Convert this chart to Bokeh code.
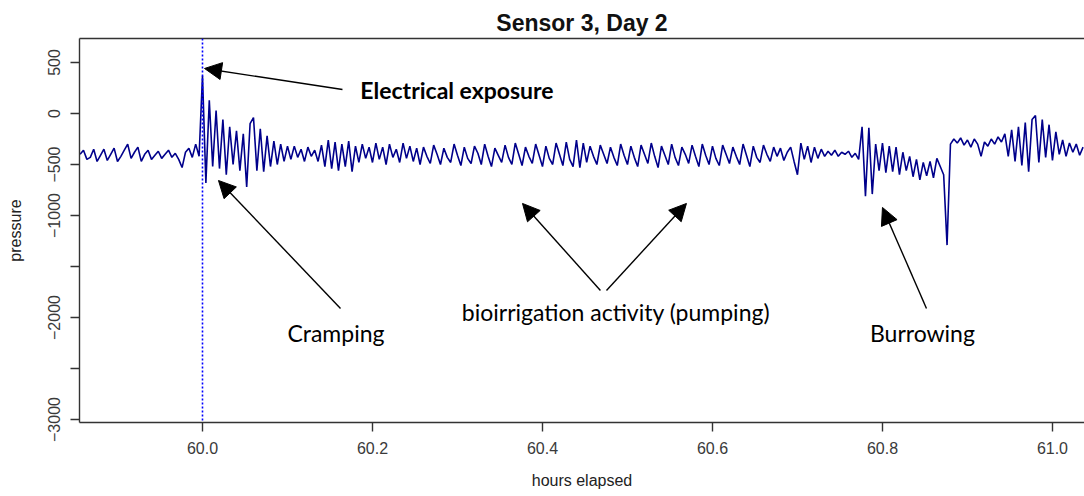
from bokeh.plotting import figure
from bokeh.models import (Range1d, FixedTicker, LinearAxis, Span, Arrow, NormalHead,
                          Label, PrintfTickFormatter)
from bokeh.embed import file_html
from bokeh.resources import INLINE

# ---------------- data ----------------
SAMPLE_START = 59.856   # hours, first sample
SAMPLE_STEP = 0.004     # hours between samples

pressure = [
    # before the electrical exposure
    -400, -360, -450, -430, -350, -470, -410, -350, -460, -400,
    -340, -470, -420, -360, -300, -440, -380, -330, -470, -400,
    -360, -450, -410, -370, -440, -400, -360, -430, -390, -450,
    -530, -380, -340, -430, -300, -420,
    # exposure spike and cramping
    370, -680, 130, -520, 30, -540, -60, -600, -130, -500,
    -170, -560, -200, -720, -100, -40, -560, -150, -570, -220,
    -520, -270, -500, -300, -470, -320,
    # settling down
    -450, -320, -430, -350, -470, -330, -420, -360, -470, -310,
    -520, -260, -540, -280, -560, -300, -520, -270, -570, -320,
    -480, -300, -440, -330, -480, -290, -450, -330, -500, -300,
    -430, -350, -480, -290, -440, -320, -470, -340, -500,
    # regular bioirrigation pumping
    -330, -420, -490, -310, -400, -500, -340, -430, -480, -300,
    -410, -510, -330, -440, -490, -320, -390, -500, -300, -420,
    -520, -340, -410, -480, -310, -430, -500, -290, -400, -510,
    -330, -420, -490, -300, -410, -520, -320, -440, -500, -290,
    -400, -510, -280, -450, -520, -260, -530, -290, -480, -320,
    -420, -500, -310, -400, -490, -330, -430, -510, -300, -410,
    -500, -320, -430, -520, -310, -400, -490, -290, -420, -530,
    -320, -410, -500, -300, -430, -510, -330, -400, -490, -310,
    -420, -520, -300, -410, -500, -320, -440, -510, -310, -400,
    -490, -330, -420, -500, -300, -410, -520, -320, -430, -480,
    -310, -400, -470, -330, -420,
    # burrowing
    -340, -460, -380, -330, -470, -600, -290, -450, -320, -480,
    -330, -440, -350, -420, -370, -410, -360, -420, -380, -400,
    -370, -430, -390, -450, -130, -810, -140, -790, -300, -560,
    -290, -580, -320, -570, -330, -600, -380, -560, -420, -620,
    -450, -650, -480, -610, -470, -630, -440, -520, -600, -1290,
    # after the drop
    -300, -250, -290, -240, -310, -260, -330, -250, -300, -420,
    -280, -320, -250, -300, -230, -280, -200, -420, -160, -470,
    -130, -510, -90, -570, -60, -20, -480, -60, -430, -110,
    -460, -180, -400, -260, -420, -290, -380, -300, -410, -330,
]
hours = [round(SAMPLE_START + SAMPLE_STEP * i, 4) for i in range(len(pressure))]

EXPOSURE_TIME = 60.0

y_ticks = [500, 0, -500, -1000, -1500, -2000, -2500, -3000]
y_hidden = [-1500, -2500]
x_ticks = [60.0, 60.2, 60.4, 60.6, 60.8, 61.0]

ann_text = ["Electrical exposure", "Cramping", "bioirrigation activity (pumping)", "Burrowing"]
ann_x = [60.2994, 60.157, 60.4865, 60.847]
ann_y = [235, -2156, -1950, -2156]
ann_bold = [True, False, False, False]

arrow_x0 = [60.1647, 60.1624, 60.4682, 60.4753, 60.8518]
arrow_y0 = [235, -1911, -1735, -1735, -1911]
arrow_x1 = [60.0024, 60.0188, 60.3765, 60.5694, 60.8]
arrow_y1 = [441, -657, -882, -882, -921]

# ---------------- figure ----------------
AX = "#333333"
TICK_FONT = "Liberation Sans"

p = figure(width=1084, height=496, output_backend="svg", toolbar_location=None,
           x_range=Range1d(59.8553, 61.0377), y_range=Range1d(-3029, 735),
           min_border_left=79, min_border_right=0, min_border_top=38, min_border_bottom=74,
           x_axis_label="hours elapsed", y_axis_label="pressure")
p.outline_line_color = None
p.grid.visible = False
p.background_fill_color = "white"
p.border_fill_color = "white"

p.title.text = "Sensor 3, Day 2"
p.title.align = "center"
p.title.text_font = TICK_FONT
p.title.text_font_style = "bold"
p.title.text_font_size = "23px"
p.title.text_color = "#111111"
p.title.standoff = 6

for ax in (p.xaxis[0], p.yaxis[0]):
    ax.axis_line_color = AX
    ax.axis_line_width = 1.4
    ax.major_tick_line_color = AX
    ax.major_tick_line_width = 1.4
    ax.major_tick_out = 9
    ax.major_tick_in = 0
    ax.minor_tick_out = 0
    ax.minor_tick_in = 0
    ax.major_label_text_font = TICK_FONT
    ax.major_label_text_font_size = "16px"
    ax.major_label_text_color = "#3a3a3a"
    ax.axis_label_text_font = TICK_FONT
    ax.axis_label_text_font_size = "16px"
    ax.axis_label_text_font_style = "normal"
    ax.axis_label_text_color = "#222222"

p.xaxis[0].ticker = FixedTicker(ticks=x_ticks)
p.xaxis[0].formatter = PrintfTickFormatter(format="%.1f")
p.xaxis[0].major_label_standoff = 10
p.xaxis[0].axis_label_standoff = 15

p.yaxis[0].ticker = FixedTicker(ticks=y_ticks)
p.yaxis[0].major_label_overrides = {v: "" for v in y_hidden}
p.yaxis[0].major_label_orientation = "vertical"
p.yaxis[0].major_label_standoff = 10
p.yaxis[0].axis_label_standoff = 22

top_axis = LinearAxis(ticker=FixedTicker(ticks=[]), axis_line_color=AX, axis_line_width=1.4,
                      major_tick_out=0, major_tick_in=0, minor_tick_out=0, minor_tick_in=0,
                      major_label_text_font_size="0px")
p.add_layout(top_axis, "above")

p.add_layout(Span(location=EXPOSURE_TIME, dimension="height", line_color="#0000FF",
                  line_dash="2 2", line_width=1.6))

p.line(hours, pressure, line_color="#00008B", line_width=1.6)

for x0, y0, x1, y1 in zip(arrow_x0, arrow_y0, arrow_x1, arrow_y1):
    p.add_layout(Arrow(x_start=x0, y_start=y0, x_end=x1, y_end=y1, line_color="black",
                       line_width=1.4,
                       end=NormalHead(size=17, fill_color="black", line_color="black")))

for t, x, y, b in zip(ann_text, ann_x, ann_y, ann_bold):
    p.add_layout(Label(x=x, y=y, text=t, text_align="center", text_baseline="middle",
                       text_font="Lato", text_font_size="23px",
                       text_font_style="bold" if b else "normal", text_color="black"))

open("out.html", "w").write(file_html(p, INLINE))
